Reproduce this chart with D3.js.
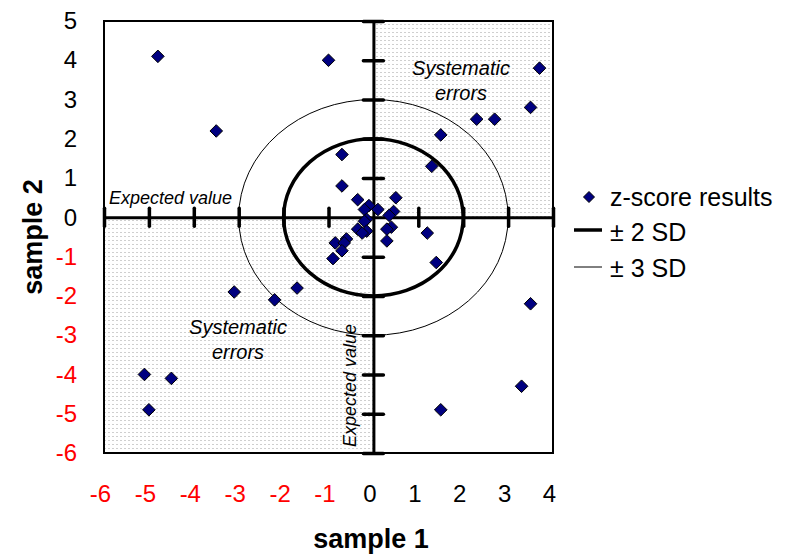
<!DOCTYPE html>
<html>
<head>
<meta charset="utf-8">
<script src="https://cdn.jsdelivr.net/npm/d3@7"></script>
<style>
body { margin: 0; background: #fff; }
svg text { font-family: "Liberation Sans", Arial, sans-serif; }
</style>
</head>
<body>
<svg width="786" height="554"></svg>
<script>
// z-scores
var sample1 = [-4.8, -1.0, -3.5, 3.7, 3.5, 2.3, 2.7, 1.5, 1.3, -0.7, -0.7, -0.35, 0.5, -0.1,
  -0.2, 0.1, 0.45, 0.35, -0.15, -0.2, -0.35, -0.15, -0.25, 0.4, 0.3, 0.3, 1.2, -0.6, -0.85,
  -0.65, -0.7, -0.9, 1.4, -3.1, -2.2, -1.7, -5.1, -4.5, -5.0, 3.5, 3.3, 1.5];
var sample2 = [4.1, 4.0, 2.2, 3.8, 2.8, 2.5, 2.5, 2.1, 1.3, 1.6, 0.8, 0.45, 0.5, 0.3,
  0.2, 0.2, 0.15, 0.05, -0.05, -0.1, -0.3, -0.35, -0.4, -0.25, -0.3, -0.6, -0.4, -0.55, -0.65,
  -0.65, -0.85, -1.05, -1.15, -1.9, -2.1, -1.8, -4.0, -4.1, -4.9, -2.2, -4.3, -4.9];
var xTicks = [-6, -5, -4, -3, -2, -1, 0, 1, 2, 3, 4];
var yTicks = [-6, -5, -4, -3, -2, -1, 0, 1, 2, 3, 4, 5];
var sdLevels = [2, 3];
var legendLabels = ['z-score results', '\u00b1 2 SD', '\u00b1 3 SD'];

var svg = d3.select('svg');

var x = d3.scaleLinear().domain([-6, 4]).range([104, 553]);
var y = d3.scaleLinear().domain([-6, 5]).range([453, 21]);

var diamond = function(s) {
  return 'M0,' + (-s) + 'L' + s + ',0L0,' + s + 'L' + (-s) + ',0Z';
};

// dotted fill
var pat = svg.append('defs').append('pattern')
  .attr('id', 'dots')
  .attr('width', 4).attr('height', 4)
  .attr('patternUnits', 'userSpaceOnUse');
pat.append('rect').attr('width', 4).attr('height', 4).attr('fill', '#fff');
pat.append('rect').attr('width', 2).attr('height', 1).attr('fill', '#cfcfcf');

svg.append('rect')
  .attr('x', x(0)).attr('y', y(5))
  .attr('width', x(4) - x(0)).attr('height', y(0) - y(5))
  .attr('fill', 'url(#dots)');
svg.append('rect')
  .attr('x', x(-6)).attr('y', y(0))
  .attr('width', x(0) - x(-6)).attr('height', y(-6) - y(0))
  .attr('fill', 'url(#dots)');

// plot border
svg.append('rect')
  .attr('x', x(-6)).attr('y', y(5))
  .attr('width', x(4) - x(-6)).attr('height', y(-6) - y(5))
  .attr('fill', 'none')
  .attr('stroke', '#000')
  .attr('stroke-width', 2);

// SD circles (ellipses on screen)
svg.selectAll('ellipse')
  .data(sdLevels)
  .enter()
  .append('ellipse')
  .attr('cx', x(0))
  .attr('cy', y(0))
  .attr('rx', d => x(d) - x(0))
  .attr('ry', d => y(0) - y(d))
  .attr('fill', 'none')
  .attr('stroke', '#000')
  .attr('stroke-width', d => d == 2 ? 3.5 : 1);

// axes through zero with crossing ticks
svg.append('g')
  .attr('transform', 'translate(0,' + y(0) + ')')
  .call(d3.axisBottom(x).tickValues(xTicks.filter(d => d != 0))
    .tickSize(9).tickSizeOuter(0).tickFormat(''))
  .call(g => {
    g.select('.domain').attr('stroke-width', 3);
    g.selectAll('.tick line')
      .attr('y1', -9)
      .attr('stroke-width', 3.5)
      .attr('stroke-linecap', 'round');
  });

svg.append('g')
  .attr('transform', 'translate(' + x(0) + ',0)')
  .call(d3.axisLeft(y).tickValues(yTicks.filter(d => d != 0))
    .tickSize(10).tickSizeOuter(0).tickFormat(''))
  .call(g => {
    g.select('.domain').attr('stroke-width', 3);
    g.selectAll('.tick line')
      .attr('x1', 10)
      .attr('stroke-width', 3.5)
      .attr('stroke-linecap', 'round');
  });

// tick labels (plain hyphen for minus, as in the original)
var xLab = svg.append('g')
  .attr('transform', 'translate(-4,485)')
  .call(d3.axisBottom(x).tickValues(xTicks).tickSize(0).tickPadding(0)
    .tickFormat(d => String(d)))
  .attr('font-size', 24)
  .attr('font-family', null);
xLab.select('.domain').remove();
xLab.selectAll('.tick text').attr('fill', d => d < 0 ? '#ff0000' : '#000');

var yLab = svg.append('g')
  .attr('transform', 'translate(77,0)')
  .call(d3.axisLeft(y).tickValues(yTicks).tickSize(0).tickPadding(0)
    .tickFormat(d => String(d)))
  .attr('font-size', 24)
  .attr('font-family', null);
yLab.select('.domain').remove();
yLab.selectAll('.tick text').attr('fill', d => d < 0 ? '#ff0000' : '#000');

// points
svg.selectAll('path.pt')
  .data(sample1)
  .enter()
  .append('path')
  .attr('class', 'pt')
  .attr('d', diamond(6.3))
  .attr('transform', (d, i) => 'translate(' + x(d) + ',' + y(sample2[i]) + ')')
  .attr('fill', '#000080')
  .attr('stroke', '#000')
  .attr('stroke-width', 1);

// annotations
svg.append('text')
  .attr('x', 109).attr('y', 204)
  .style('font-style', 'italic')
  .style('font-size', '18px')
  .text('Expected value');

svg.append('text')
  .attr('transform', 'translate(356,447) rotate(-90)')
  .style('font-style', 'italic')
  .style('font-size', '18px')
  .text('Expected value');

[[461, 75], [238, 334]].forEach(function(p) {
  var t = svg.append('text')
    .attr('x', p[0]).attr('y', p[1])
    .style('font-style', 'italic')
    .style('font-size', '20px')
    .style('text-anchor', 'middle');
  t.append('tspan').attr('x', p[0]).text('Systematic');
  t.append('tspan').attr('x', p[0]).attr('dy', 25).text('errors');
});

// axis titles
svg.append('text')
  .attr('x', 371).attr('y', 548)
  .style('font-weight', 'bold')
  .style('font-size', '27px')
  .style('text-anchor', 'middle')
  .text('sample 1');

svg.append('text')
  .attr('transform', 'translate(42,237) rotate(-90)')
  .style('font-weight', 'bold')
  .style('font-size', '27px')
  .style('text-anchor', 'middle')
  .text('sample 2');

// legend
var legend = svg.append('g');
legend.append('path')
  .attr('d', diamond(5.5))
  .attr('transform', 'translate(589,197)')
  .attr('fill', '#000080')
  .attr('stroke', '#000');
legend.selectAll('line')
  .data(sdLevels)
  .enter()
  .append('line')
  .attr('x1', 574).attr('x2', 602)
  .attr('y1', (d, i) => 230 + i * 37)
  .attr('y2', (d, i) => 230 + i * 37)
  .attr('stroke', '#000')
  .attr('stroke-width', d => d == 2 ? 3.5 : 1);
legend.selectAll('text')
  .data(legendLabels)
  .enter()
  .append('text')
  .attr('x', 610)
  .attr('y', (d, i) => [206, 241, 277][i])
  .style('font-size', '25px')
  .text(d => d);
</script>
</body>
</html>
